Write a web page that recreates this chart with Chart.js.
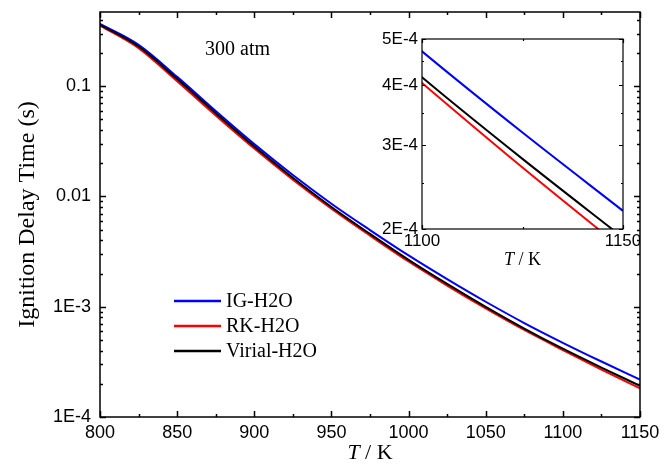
<!DOCTYPE html>
<html>
<head>
<meta charset="utf-8">
<script src="https://cdn.jsdelivr.net/npm/chart.js@4.4.1/dist/chart.umd.min.js"></script>
<style>
    body { margin: 0; background: #fff; }
    #wrap { position: relative; width: 664px; height: 465px; }
    #mainChart { position: absolute; left: 0; top: 0; }
    #insetChart { position: absolute; left: 340px; top: 20px; }
</style>
</head>
<body>
<div id="wrap">
    <canvas id="mainChart" width="664" height="465"></canvas>
    <canvas id="insetChart" width="300" height="260"></canvas>
</div>
<script>
// --- data (300 atm) ---
const temperatures = [800, 825, 850, 875, 900, 925, 950, 975, 1000, 1025, 1050, 1075, 1100, 1125, 1150];
const igH2O = [0.3664, 0.2366, 0.1213, 0.05943, 0.02979, 0.01563, 0.008590, 0.004955, 0.002917, 0.001778, 0.001109, 0.0007112, 0.0004710, 0.0003184, 0.0002183];
const rkH2O = [0.3540, 0.2208, 0.1106, 0.05420, 0.02717, 0.01419, 0.007745, 0.004416, 0.002570, 0.001556, 0.0009659, 0.0006152, 0.0004046, 0.0002691, 0.0001816];
const virialH2O = [0.3597, 0.2286, 0.1158, 0.05676, 0.02832, 0.01476, 0.008017, 0.004572, 0.002660, 0.001610, 0.0009975, 0.0006339, 0.0004159, 0.0002805, 0.0001919];

const seriesNames = ['IG-H2O', 'RK-H2O', 'Virial-H2O'];
const seriesColors = ['#0000ff', '#ff0000', '#000000'];

const xTicksMain = [800, 850, 900, 950, 1000, 1050, 1100, 1150];
const xMinorMain = [825, 875, 925, 975, 1025, 1075, 1125];
const yTicksMain = [1e-4, 1e-3, 1e-2, 1e-1];
const yLabelsMain = ['1E-4', '1E-3', '0.01', '0.1'];

const xTicksInset = [1100, 1150];
const xMinorInset = [1125];
const yTicksInset = [2e-4, 3e-4, 4e-4, 5e-4];
const yLabelsInset = ['2E-4', '3E-4', '4E-4', '5E-4'];
const yMinorInset = [2.5e-4, 3.5e-4, 4.5e-4];

const pressureLabel = '300 atm';

// minor ticks for a log axis: 2..9 x each decade
function logMinors(lo, hi) {
    const out = [];
    for (let e = Math.floor(Math.log10(lo)); e <= Math.ceil(Math.log10(hi)); e++) {
        for (let k = 2; k <= 9; k++) {
            const v = k * Math.pow(10, e);
            if (v > lo && v < hi) out.push(v);
        }
    }
    return out;
}

function makeDatasets() {
    const all = [igH2O, rkH2O, virialH2O];
    return all.map((vals, i) => ({
        label: seriesNames[i],
        data: temperatures.map((t, j) => ({ x: t, y: vals[j] })),
        borderColor: seriesColors[i],
        backgroundColor: seriesColors[i],
        borderWidth: 2,
        pointRadius: 0,
        cubicInterpolationMode: 'monotone',
        order: 3 - i
    }));
}

// frame + inward ticks on all four sides
const framePlugin = {
    id: 'frame',
    afterDatasetsDraw(chart, args, opts) {
        const { ctx, chartArea: a, scales: { x, y } } = chart;
        ctx.save();
        ctx.strokeStyle = '#000';
        ctx.lineWidth = opts.lineWidth;
        ctx.beginPath();
        const xt = (vals, len) => vals.forEach(v => {
            const px = Math.round(x.getPixelForValue(v)) + 0.5;
            ctx.moveTo(px, a.bottom); ctx.lineTo(px, a.bottom - len);
            ctx.moveTo(px, a.top); ctx.lineTo(px, a.top + len);
        });
        const yt = (vals, len) => vals.forEach(v => {
            const py = Math.round(y.getPixelForValue(v)) + 0.5;
            ctx.moveTo(a.left, py); ctx.lineTo(a.left + len, py);
            ctx.moveTo(a.right, py); ctx.lineTo(a.right - len, py);
        });
        xt(opts.xMajor, opts.major);
        xt(opts.xMinor, opts.minor);
        yt(opts.yMajor, opts.major);
        yt(opts.yMinor, opts.minor);
        ctx.stroke();
        ctx.strokeRect(a.left, a.top, a.right - a.left, a.bottom - a.top);
        ctx.restore();
    }
};

// texts for the main chart: pressure, legend, x title with italic T
const annotPlugin = {
    id: 'annot',
    afterDraw(chart) {
        const { ctx, chartArea: a } = chart;
        ctx.save();
        ctx.fillStyle = '#000';
        ctx.textBaseline = 'alphabetic';
        ctx.font = '20px "Liberation Serif"';
        ctx.fillText(pressureLabel, 205, 55);

        // legend
        ctx.textBaseline = 'middle';
        chart.data.datasets.forEach((ds, i) => {
            const ly = 301 + i * 25;
            ctx.strokeStyle = ds.borderColor;
            ctx.lineWidth = 2.5;
            ctx.beginPath();
            ctx.moveTo(174, ly);
            ctx.lineTo(221, ly);
            ctx.stroke();
            ctx.fillStyle = '#000';
            ctx.fillText(ds.label, 226, ly + 1);
        });

        // x axis title
        ctx.textBaseline = 'alphabetic';
        const it = 'italic 22px "Liberation Serif"';
        const rm = '22px "Liberation Serif"';
        ctx.font = it;
        const w1 = ctx.measureText('T').width;
        ctx.font = rm;
        const w2 = ctx.measureText(' / K').width;
        const x0 = (a.left + a.right) / 2 - (w1 + w2) / 2;
        ctx.font = it;
        ctx.fillText('T', x0, 459);
        ctx.font = rm;
        ctx.fillText(' / K', x0 + w1, 459);
        ctx.restore();
    }
};

// inset x title
const insetTitlePlugin = {
    id: 'insetTitle',
    afterDraw(chart) {
        const { ctx, chartArea: a } = chart;
        ctx.save();
        ctx.fillStyle = '#000';
        const it = 'italic 18px "Liberation Serif"';
        const rm = '18px "Liberation Serif"';
        ctx.font = it;
        const w1 = ctx.measureText('T').width;
        ctx.font = rm;
        const w2 = ctx.measureText(' / K').width;
        const x0 = (a.left + a.right) / 2 - (w1 + w2) / 2;
        ctx.font = it;
        ctx.fillText('T', x0, 245);
        ctx.font = rm;
        ctx.fillText(' / K', x0 + w1, 245);
        ctx.restore();
    }
};

function noPad(scale) {
    scale.paddingLeft = 0;
    scale.paddingRight = 0;
    scale.paddingTop = 0;
    scale.paddingBottom = 0;
}

// --- main chart ---
new Chart(document.getElementById('mainChart'), {
    type: 'line',
    data: { datasets: makeDatasets() },
    options: {
        responsive: false,
        animation: false,
        devicePixelRatio: 1,
        layout: { padding: { left: 0, top: 12, right: 24, bottom: 0 } },
        plugins: {
            legend: { display: false },
            tooltip: { enabled: false },
            frame: {
                lineWidth: 1.5, major: 6, minor: 3,
                xMajor: xTicksMain, xMinor: xMinorMain,
                yMajor: yTicksMain, yMinor: logMinors(1e-4, 0.47)
            }
        },
        scales: {
            x: {
                type: 'linear',
                min: 800,
                max: 1150,
                grid: { display: false, drawTicks: false },
                border: { display: false },
                afterBuildTicks: scale => { scale.ticks = xTicksMain.map(v => ({ value: v })); },
                afterFit: scale => { scale.height = 48; noPad(scale); },
                ticks: {
                    color: '#000',
                    padding: 5,
                    maxRotation: 0,
                    font: { family: '"Liberation Sans"', size: 18 },
                    callback: value => String(value)
                }
            },
            y: {
                type: 'logarithmic',
                min: 1e-4,
                max: 0.47,
                grid: { display: false, drawTicks: false },
                border: { display: false },
                afterBuildTicks: scale => { scale.ticks = yTicksMain.map(v => ({ value: v })); },
                afterFit: scale => { scale.width = 100; noPad(scale); },
                ticks: {
                    color: '#000',
                    padding: 9,
                    font: { family: '"Liberation Sans"', size: 18 },
                    callback: value => yLabelsMain[yTicksMain.indexOf(value)] ?? ''
                },
                title: {
                    display: true,
                    text: 'Ignition Delay Time (s)',
                    color: '#000',
                    padding: { top: 13, bottom: 0 },
                    font: { family: '"Liberation Serif"', size: 24, weight: 'normal' }
                }
            }
        }
    },
    plugins: [framePlugin, annotPlugin]
});

// --- inset chart (1100-1150 K) ---
new Chart(document.getElementById('insetChart'), {
    type: 'line',
    data: { datasets: makeDatasets() },
    options: {
        responsive: false,
        animation: false,
        devicePixelRatio: 1,
        layout: { padding: { left: 0, top: 19, right: 17, bottom: 0 } },
        plugins: {
            legend: { display: false },
            tooltip: { enabled: false },
            frame: {
                lineWidth: 1.2, major: 4, minor: 2,
                xMajor: xTicksInset, xMinor: xMinorInset,
                yMajor: yTicksInset, yMinor: yMinorInset
            }
        },
        scales: {
            x: {
                type: 'linear',
                min: 1100,
                max: 1150,
                grid: { display: false, drawTicks: false },
                border: { display: false },
                afterBuildTicks: scale => { scale.ticks = xTicksInset.map(v => ({ value: v })); },
                afterFit: scale => { scale.height = 51; noPad(scale); },
                ticks: {
                    color: '#000',
                    padding: 2,
                    maxRotation: 0,
                    font: { family: '"Liberation Sans"', size: 17 },
                    callback: value => String(value)
                }
            },
            y: {
                type: 'logarithmic',
                min: 2e-4,
                max: 5e-4,
                grid: { display: false, drawTicks: false },
                border: { display: false },
                afterBuildTicks: scale => { scale.ticks = yTicksInset.map(v => ({ value: v })); },
                afterFit: scale => { scale.width = 82; noPad(scale); },
                ticks: {
                    color: '#000',
                    padding: 4,
                    font: { family: '"Liberation Sans"', size: 17 },
                    callback: value => yLabelsInset[yTicksInset.indexOf(value)] ?? ''
                }
            }
        }
    },
    plugins: [framePlugin, insetTitlePlugin]
});
</script>
</body>
</html>
